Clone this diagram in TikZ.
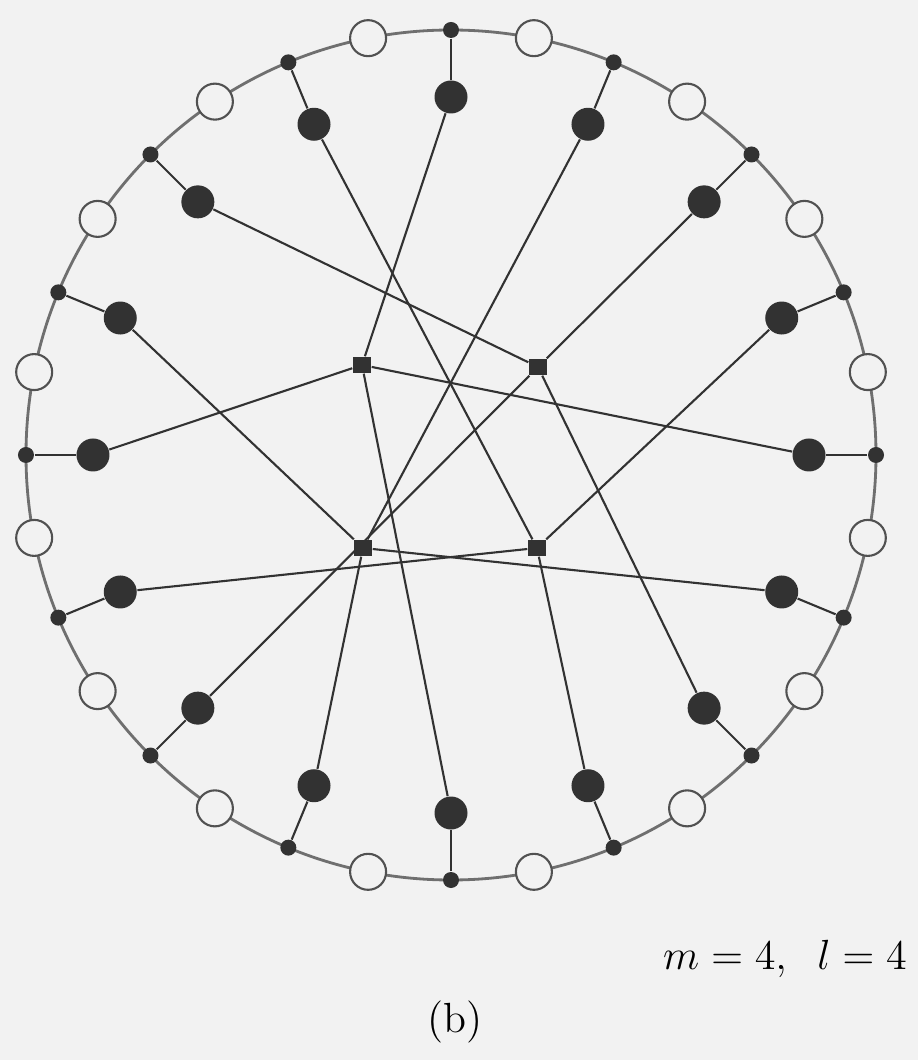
\documentclass[tikz,border=0pt]{standalone}
\usepackage{amsmath}
\usetikzlibrary{positioning}
\definecolor{paper}{RGB}{242,242,242}
\definecolor{ink}{RGB}{50,50,50}
\tikzstyle{rimdot} = [circle, fill=ink, inner sep=0pt, minimum size=1.6mm]
\tikzstyle{hole} = [circle, draw=ink!85, fill=paper, line width=0.6pt, inner sep=0pt, minimum size=3.6mm]
\tikzstyle{site} = [circle, fill=ink, inner sep=0pt, minimum size=3.3mm]
\tikzstyle{hub} = [rectangle, fill=ink, inner sep=0pt, minimum width=1.8mm, minimum height=1.6mm]
\tikzstyle{wire} = [draw=ink, line width=0.6pt]

\begin{document}
\begin{tikzpicture}[font=\fontsize{12}{14}\selectfont]

\fill[paper] (-4.51,-6.05) rectangle (4.67,4.55);
\draw[ink!70, line width=0.8pt] (0,0) circle (4.25);

% rim and inner sites
\foreach \k in {0,...,15} {
  \node (s\k) [rimdot] at ({90-22.5*\k}:4.25) {};
  \node (w\k) [hole] at ({78.75-22.5*\k}:4.25) {};
  \node (b\k) [site] at ({90-22.5*\k}:3.58) {};
  \draw [wire] (s\k) -- (b\k);
}

% the four hubs
\node (hubA) [hub] at (-0.89,0.90) {};
\node (hubB) [hub] at (0.87,0.88) {};
\node (hubC) [hub] at (-0.88,-0.93) {};
\node (hubD) [hub] at (0.86,-0.93) {};

\foreach \k in {0,4,8,12} \draw [wire] (b\k) -- (hubA);
\foreach \k in {2,6,10,14} \draw [wire] (b\k) -- (hubB);
\foreach \k in {1,5,9,13} \draw [wire] (b\k) -- (hubC);
\foreach \k in {3,7,11,15} \draw [wire] (b\k) -- (hubD);

\node (params) at (3.34,-5.04) {$m = 4,\;\; l = 4$};
\node (caption) at (0.04,-5.67) {(b)};

\end{tikzpicture}
\end{document}
